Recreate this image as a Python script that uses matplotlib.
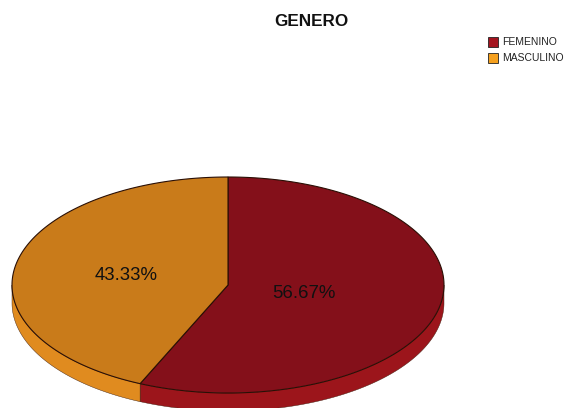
import numpy as np
import matplotlib.pyplot as plt
from matplotlib.patches import Polygon, Rectangle

plt.rcParams['font.family'] = ['Liberation Sans', 'DejaVu Sans']

labels = ["FEMENINO", "MASCULINO"]
pct = [56.67, 43.33]
top_colors = ["#84101a", "#c97b1a"]
side_colors = ["#9c151b", "#e08b1f"]
legend_colors = ["#a3141f", "#f5a01e"]

# pie geometry in pixels
cx, cy = 228, 285
a, b = 216, 108
depth = 18

W, H = 569, 408
fig = plt.figure(figsize=(W / 100, H / 100), dpi=100)
ax = fig.add_axes([0, 0, 1, 1])
ax.set_xlim(0, W)
ax.set_ylim(H, 0)
ax.axis("off")


def rim(t0, t1, dz=0, n=200):
    t = np.radians(np.linspace(t0, t1, n))
    return np.column_stack([cx + a * np.cos(t), cy - b * np.sin(t) + dz])


# slices go clockwise from 12 o'clock
bounds = [90]
for p in pct:
    bounds.append(bounds[-1] - 360 * p / 100)

# side walls (only the front half shows)
for i in range(len(pct)):
    hi, lo = bounds[i], bounds[i + 1]
    s_hi = min(hi, 0)
    s_lo = max(lo, -180)
    if s_hi > s_lo:
        upper = rim(s_hi, s_lo)
        lower = rim(s_lo, s_hi, depth)
        ax.add_patch(Polygon(np.vstack([upper, lower]), closed=True,
                             facecolor=side_colors[i], edgecolor="#3a1a0a",
                             linewidth=0.3, zorder=1))

# top faces
for i in range(len(pct)):
    hi, lo = bounds[i], bounds[i + 1]
    pts = np.vstack([[cx, cy], rim(hi, lo)])
    ax.add_patch(Polygon(pts, closed=True, facecolor=top_colors[i],
                         edgecolor="#2a0f05", linewidth=0.8, zorder=2))

# percentage labels
label_pos = [(304, 293), (126, 275)]
for (x, y), p in zip(label_pos, pct):
    ax.text(x, y, f"{p:.2f}%", ha="center", va="center", fontsize=13.4,
            color="#111111", zorder=3)

ax.text(311, 22, "GENERO", ha="center", va="center", fontsize=12.3,
        fontweight="bold", color="#111111")

# legend
for i, (lab, col) in enumerate(zip(labels, legend_colors)):
    y = 42 + 16 * i
    ax.add_patch(Rectangle((488, y - 5), 10, 10, facecolor=col,
                           edgecolor="#222222", linewidth=0.6))
    ax.text(502, y, lab, ha="left", va="center", fontsize=7.5,
            color="#222222")

fig.savefig("out.png", dpi=100)
